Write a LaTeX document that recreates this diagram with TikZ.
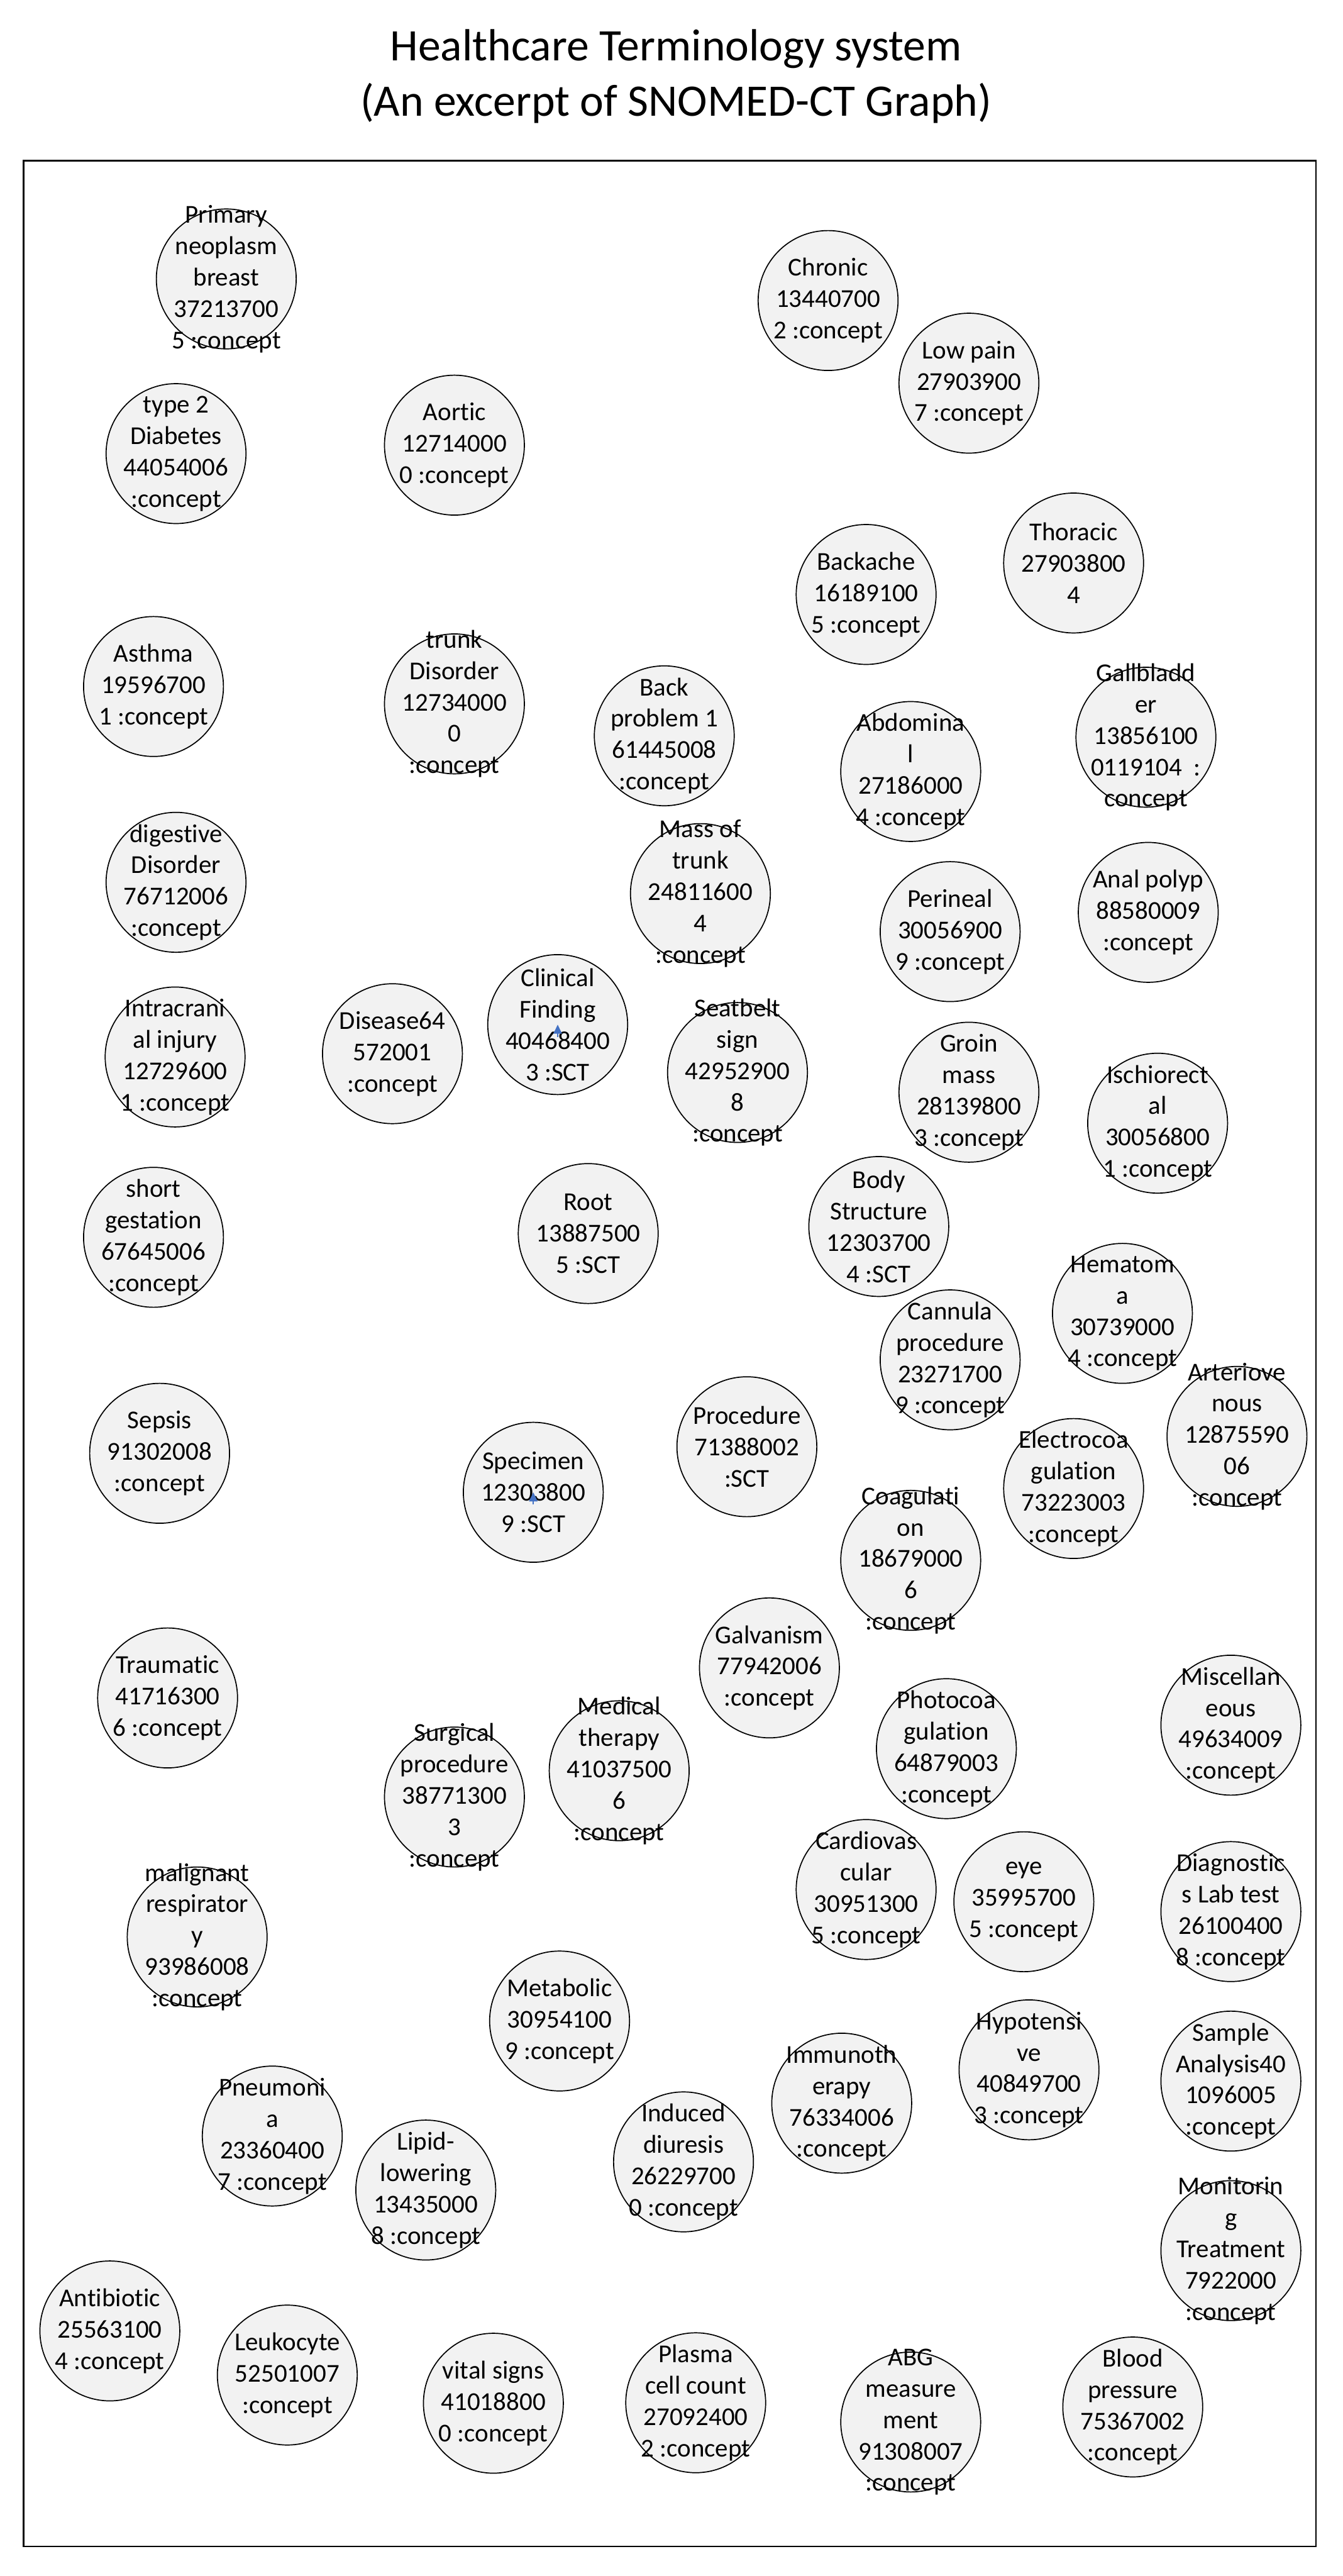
\documentclass[tikz,border=0pt]{standalone}
\usepackage{fontspec}
\setmainfont[Ligatures=NoCommon]{Carlito}
\usetikzlibrary{arrows.meta}
\definecolor{nodefill}{RGB}{242,242,242}
\definecolor{tipblue}{RGB}{68,114,196}

\begin{document}
\begin{tikzpicture}[
  circ/.style={draw, circle, fill=nodefill, line width=0.65pt, minimum size=2.98cm,
               inner sep=-0.8cm, align=center, font=\fontsize{15.6}{19}\selectfont},
  ttl/.style={align=center, font=\fontsize{27.3}{33.5}\selectfont},
  arr/.style={-{Triangle[length=5.5pt, width=5pt]}, line width=0.9pt, tipblue}
]
  \useasboundingbox (0,0) rectangle (28.60,-54.86);
  \node[ttl] (title) at (14.40,-1.62) {Healthcare Terminology system\\(An excerpt of SNOMED-CT Graph)};
  \draw[line width=0.9pt] (0.50,-3.42) rectangle (28.03,-54.23);

  % top rows
  \node[circ] (prim) at (4.82,-5.94) {Primary\\neoplasm\\breast\\37213700\\5 :concept};
  \node[circ] (diab) at (3.75,-9.66) {type 2\\Diabetes\\44054006\\:concept};
  \node[circ] (aortic) at (9.68,-9.48) {Aortic\\12714000\\0 :concept};
  \node[circ] (chronic) at (17.64,-6.40) {Chronic\\13440700\\2 :concept};
  \node[circ] (lowpain) at (20.64,-8.16) {Low pain\\27903900\\7 :concept};
  \node[circ] (thoracic) at (22.87,-11.99) {Thoracic\\27903800\\4};
  \node[circ] (backache) at (18.45,-12.66) {Backache\\16189100\\5 :concept};
  \node[circ] (asthma) at (3.27,-14.62) {Asthma\\19596700\\1 :concept};
  \node[circ] (trunk) at (9.68,-14.99) {trunk\\Disorder\\12734000\\0\\:concept};
  \node[circ] (backprob) at (14.15,-15.67) {Back\\problem 1\\61445008\\:concept};
  \node[circ] (abdom) at (19.40,-16.43) {Abdomina\\l\\27186000\\4 :concept};
  \node[circ] (gallbl) at (24.41,-15.70) {Gallbladd\\er\\13856100\\0119104~~:\\concept};
  \node[circ] (digest) at (3.75,-18.79) {digestive\\Disorder\\76712006\\:concept};
  \node[circ] (mass) at (14.92,-19.03) {Mass of\\trunk\\24811600\\4\\:concept};
  \node[circ] (perin) at (20.24,-19.84) {Perineal\\30056900\\9 :concept};
  \node[circ] (anal) at (24.46,-19.43) {Anal polyp\\88580009\\:concept};
  \node[circ] (intra) at (3.73,-22.51) {Intracrani\\al injury\\12729600\\1 :concept};
  \node[circ] (disease) at (8.36,-22.44) {Disease64\\572001\\:concept};
  \node[circ] (cf) at (11.88,-21.82) {Clinical\\Finding\\40468400\\3 :SCT};
  \node[circ] (seat) at (15.71,-22.84) {Seatbelt\\sign\\42952900\\8\\:concept};
  \node[circ] (groin) at (20.64,-23.26) {Groin\\mass\\28139800\\3 :concept};
  \node[circ] (ischio) at (24.66,-23.92) {Ischiorect\\al\\30056800\\1 :concept};

  % middle rows
  \node[circ] (shortg) at (3.27,-26.35) {short\\gestation\\67645006\\:concept};
  \node[circ] (root) at (12.53,-26.27) {Root\\13887500\\5 :SCT};
  \node[circ] (body) at (18.72,-26.12) {Body\\Structure\\12303700\\4 :SCT};
  \node[circ] (cannula) at (20.24,-28.96) {Cannula\\procedure\\23271700\\9 :concept};
  \node[circ] (hemat) at (23.91,-27.97) {Hematom\\a\\30739000\\4 :concept};
  \node[circ] (proc) at (15.91,-30.81) {Procedure\\71388002\\:SCT};
  \node[circ] (arter) at (26.35,-30.59) {Arteriove\\nous\\12875590\\06\\:concept};
  \node[circ] (electro) at (22.87,-31.70) {Electrocoa\\gulation\\73223003\\:concept};
  \node[circ] (sepsis) at (3.40,-30.95) {Sepsis\\91302008\\:concept};
  \node[circ] (spec) at (11.36,-31.78) {Specimen\\12303800\\9 :SCT};
  \node[circ] (coag) at (19.40,-33.23) {Coagulati\\on\\18679000\\6\\:concept};
  \node[circ] (traum) at (3.57,-36.16) {Traumatic\\41716300\\6 :concept};
  \node[circ] (galv) at (16.39,-35.52) {Galvanism\\77942006\\:concept};
  \node[circ] (photo) at (20.16,-37.24) {Photocoa\\gulation\\64879003\\:concept};
  \node[circ] (misc) at (26.22,-36.74) {Miscellan\\eous\\49634009\\:concept};
  \node[circ] (surg) at (9.68,-38.27) {Surgical\\procedure\\38771300\\3\\:concept};
  \node[circ] (medic) at (13.19,-37.71) {Medical\\therapy\\41037500\\6\\:concept};

  % bottom rows
  \node[circ] (cardio) at (18.45,-40.24) {Cardiovas\\cular\\30951300\\5 :concept};
  \node[circ] (eye) at (21.81,-40.50) {eye\\35995700\\5 :concept};
  \node[circ] (diag) at (26.22,-40.71) {Diagnostic\\s Lab test\\26100400\\8 :concept};
  \node[circ] (malig) at (4.20,-41.25) {malignant\\respirator\\y\\93986008\\:concept};
  \node[circ] (metab) at (11.92,-43.04) {Metabolic\\30954100\\9 :concept};
  \node[circ] (hypo) at (21.92,-44.08) {Hypotensi\\ve\\40849700\\3 :concept};
  \node[circ] (immuno) at (17.93,-44.79) {Immunoth\\erapy\\76334006\\:concept};
  \node[circ] (sample) at (26.22,-44.32) {Sample\\Analysis40\\1096005\\:concept};
  \node[circ] (pneum) at (5.80,-45.49) {Pneumoni\\a\\23360400\\7 :concept};
  \node[circ] (lipid) at (9.07,-46.64) {Lipid-\\lowering\\13435000\\8 :concept};
  \node[circ] (induced) at (14.56,-46.04) {Induced\\diuresis\\26229700\\0 :concept};
  \node[circ] (monit) at (26.22,-47.93) {Monitorin\\g\\Treatment\\7922000\\:concept};
  \node[circ] (antib) at (2.34,-49.64) {Antibiotic\\25563100\\4 :concept};
  \node[circ] (leuko) at (6.12,-50.58) {Leukocyte\\52501007\\:concept};
  \node[circ] (vital) at (10.51,-51.18) {vital signs\\41018800\\0 :concept};
  \node[circ] (plasma) at (14.82,-51.17) {Plasma\\cell count\\27092400\\2 :concept};
  \node[circ] (abg) at (19.40,-51.58) {ABG\\measure\\ment\\91308007\\:concept};
  \node[circ] (blood) at (24.13,-51.26) {Blood\\pressure\\75367002\\:concept};

  % the two little arrows
  \coordinate (cftail) at ([yshift=-0.27cm]cf.center);
  \coordinate (spectail) at ([yshift=-0.26cm]spec.center);
  \draw[arr] (cftail) -- (cf.center);
  \draw[arr] (spectail) -- (spec.center);
\end{tikzpicture}
\end{document}
